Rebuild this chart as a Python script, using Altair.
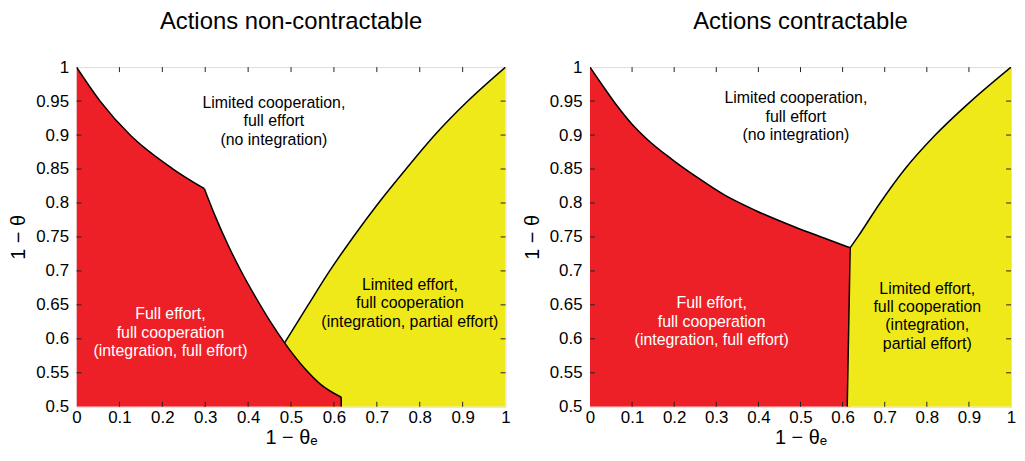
import altair as alt
import pandas as pd

# ---------------- data ----------------
x_ticks = [0, 0.1, 0.2, 0.3, 0.4, 0.5, 0.6, 0.7, 0.8, 0.9, 1]
y_ticks = [0.5, 0.55, 0.6, 0.65, 0.7, 0.75, 0.8, 0.85, 0.9, 0.95, 1]

# Panel 1: actions non-contractable
# red boundary, upper part (ends at the kink) and lower part (starts at the kink)
nc_red1_x = [0, 0.055, 0.125, 0.225, 0.298]
nc_red1_y = [1.0, 0.95, 0.9, 0.85, 0.821]
nc_red2_x = [0.298, 0.323, 0.354, 0.385, 0.415, 0.454, 0.485, 0.531, 0.569, 0.617]
nc_red2_y = [0.821, 0.781, 0.737, 0.698, 0.664, 0.623, 0.594, 0.557, 0.533, 0.514]
nc_drop_x = [0.617, 0.617]
nc_drop_y = [0.514, 0.5]
nc_yel_x = [0.485, 0.54, 0.59, 0.645, 0.704, 0.768, 0.835, 0.912, 1.0]
nc_yel_y = [0.594, 0.65, 0.7, 0.75, 0.8, 0.85, 0.9, 0.95, 1.0]

# Panel 2: actions contractable
c_red_x = [0, 0.031, 0.062, 0.1, 0.139, 0.193, 0.254, 0.316, 0.393, 0.485, 0.562, 0.618]
c_red_y = [1.0, 0.972, 0.945, 0.916, 0.892, 0.865, 0.838, 0.813, 0.789, 0.765, 0.747, 0.734]
c_sep_x = [0.611, 0.618]
c_sep_y = [0.5, 0.734]
c_yel_x = [0.618, 0.636, 0.689, 0.748, 0.820, 0.905, 1.0]
c_yel_y = [0.734, 0.75, 0.8, 0.85, 0.9, 0.95, 1.0]

titles = ["Actions non-contractable", "Actions contractable"]

nc_labels = ["Limited cooperation,\nfull effort\n(no integration)",
             "Full effort,\nfull cooperation\n(integration, full effort)",
             "Limited effort,\nfull cooperation\n(integration, partial effort)"]
nc_label_x = [0.46, 0.219, 0.777]
nc_label_y = [0.947, 0.636, 0.679]

c_labels = ["Limited cooperation,\nfull effort\n(no integration)",
            "Full effort,\nfull cooperation\n(integration, full effort)",
            "Limited effort,\nfull cooperation\n(integration,\npartial effort)"]
c_label_x = [0.489, 0.289, 0.801]
c_label_y = [0.954, 0.652, 0.674]
label_colors = ["black", "white", "black"]

RED = "#ED2027"
YELLOW = "#F0E91A"
FONT = "Liberation Sans"
W_L, W_R, H = 432, 424, 342
TICK = 5

xs = alt.Scale(domain=[0, 1], nice=False, zero=False)
ys = alt.Scale(domain=[0.5, 1], nice=False, zero=False)
xax = alt.Axis(values=x_ticks, format="~g", ticks=False, domain=False, grid=False,
               labelFont=FONT, labelFontSize=17, labelColor="black", labelPadding=3,
               labelFlush=False, labelOverlap=False,
               title="1 − θₑ", titleFont=FONT, titleFontSize=20, titleFontWeight="normal",
               titleColor="black", titlePadding=2)
yax = alt.Axis(values=y_ticks, format="~g", ticks=False, domain=False, grid=False,
               labelFont=FONT, labelFontSize=17, labelColor="black", labelPadding=8,
               labelFlush=False, labelOverlap=False,
               title="1 − θ", titleFont=FONT, titleFontSize=20, titleFontWeight="normal",
               titleColor="black", titlePadding=7)


def X(f="x"):
    return alt.X(f + ":Q", scale=xs, axis=xax)


def Y(f="y"):
    return alt.Y(f + ":Q", scale=ys, axis=yax)


def df(x, y):
    return pd.DataFrame({"x": x, "y": y})


def area(x, y, color, interp):
    return alt.Chart(df(x, y)).mark_area(color=color, opacity=1, clip=True, interpolate=interp).encode(
        x=X(), y=Y(), y2=alt.datum(0.5))


def curve(x, y, interp):
    return alt.Chart(df(x, y)).mark_line(color="black", strokeWidth=1.5, clip=True,
                                         interpolate=interp).encode(
        x=X(), y=Y(), order=alt.Order("i:Q")
    ).transform_window(i="row_number()")


def seam(xv, ytop, color):
    d = pd.DataFrame({"x": [xv], "y": [ytop]})
    return alt.Chart(d).mark_rule(color=color, strokeWidth=1.5).encode(
        x=X(), y=Y(), y2=alt.datum(0.5))


def labels_layer(lab, lx, ly):
    d = pd.DataFrame({"x": lx, "y": ly, "t": lab, "c": label_colors})
    return alt.Chart(d).mark_text(font=FONT, fontSize=16, lineBreak="\n", lineHeight=18.5,
                                  align="center", baseline="middle").encode(
        x=X(), y=Y(), text="t:N", color=alt.Color("c:N", scale=None))


def ticks_layers(w, h):
    xt = pd.DataFrame({"x": x_ticks[1:-1]})
    yt = pd.DataFrame({"y": y_ticks[1:-1]})
    kw = dict(color="#222222", strokeWidth=1)
    return [
        alt.Chart(xt).mark_rule(**kw).encode(x=X(), y=alt.value(h), y2=alt.value(h - TICK)),
        alt.Chart(xt).mark_rule(**kw).encode(x=X(), y=alt.value(0), y2=alt.value(TICK)),
        alt.Chart(yt).mark_rule(**kw).encode(y=Y(), x=alt.value(0), x2=alt.value(TICK)),
        alt.Chart(yt).mark_rule(**kw).encode(y=Y(), x=alt.value(w), x2=alt.value(w - TICK)),
    ]


def title(t):
    return alt.TitleParams(t, font=FONT, fontSize=24, fontWeight="normal", color="black",
                           anchor="middle", frame="group", offset=24)


left = alt.layer(
    area(nc_yel_x, nc_yel_y, YELLOW, "monotone"),
    area(nc_red1_x, nc_red1_y, RED, "monotone"),
    area(nc_red2_x, nc_red2_y, RED, "monotone"),
    seam(nc_red1_x[-1], nc_red1_y[-1], RED),
    curve(nc_red1_x, nc_red1_y, "monotone"),
    curve(nc_red2_x, nc_red2_y, "monotone"),
    curve(nc_drop_x, nc_drop_y, "linear"),
    curve(nc_yel_x, nc_yel_y, "monotone"),
    labels_layer(nc_labels, nc_label_x, nc_label_y),
    *ticks_layers(W_L, H),
).properties(width=W_L, height=H, title=title(titles[0]))

right = alt.layer(
    area(c_red_x, c_red_y, RED, "monotone"),
    area(c_yel_x, c_yel_y, YELLOW, "monotone"),
    area(c_sep_x, c_sep_y, YELLOW, "linear"),
    seam(c_yel_x[0], c_yel_y[0], YELLOW),
    curve(c_red_x, c_red_y, "monotone"),
    curve(c_sep_x[::-1], c_sep_y[::-1], "linear"),
    curve(c_yel_x, c_yel_y, "monotone"),
    labels_layer(c_labels, c_label_x, c_label_y),
    *ticks_layers(W_R, H),
).properties(width=W_R, height=H, title=title(titles[1]))

chart = alt.hconcat(left, right, spacing=10).properties(
    padding={"left": 0, "top": 0, "right": 0, "bottom": 0}
).configure_view(stroke="black", strokeWidth=1.5).configure_axis(
    labelOverlap=False
).configure(background="white")

chart.save("out.html", embed_options={"renderer": "svg", "actions": False})
